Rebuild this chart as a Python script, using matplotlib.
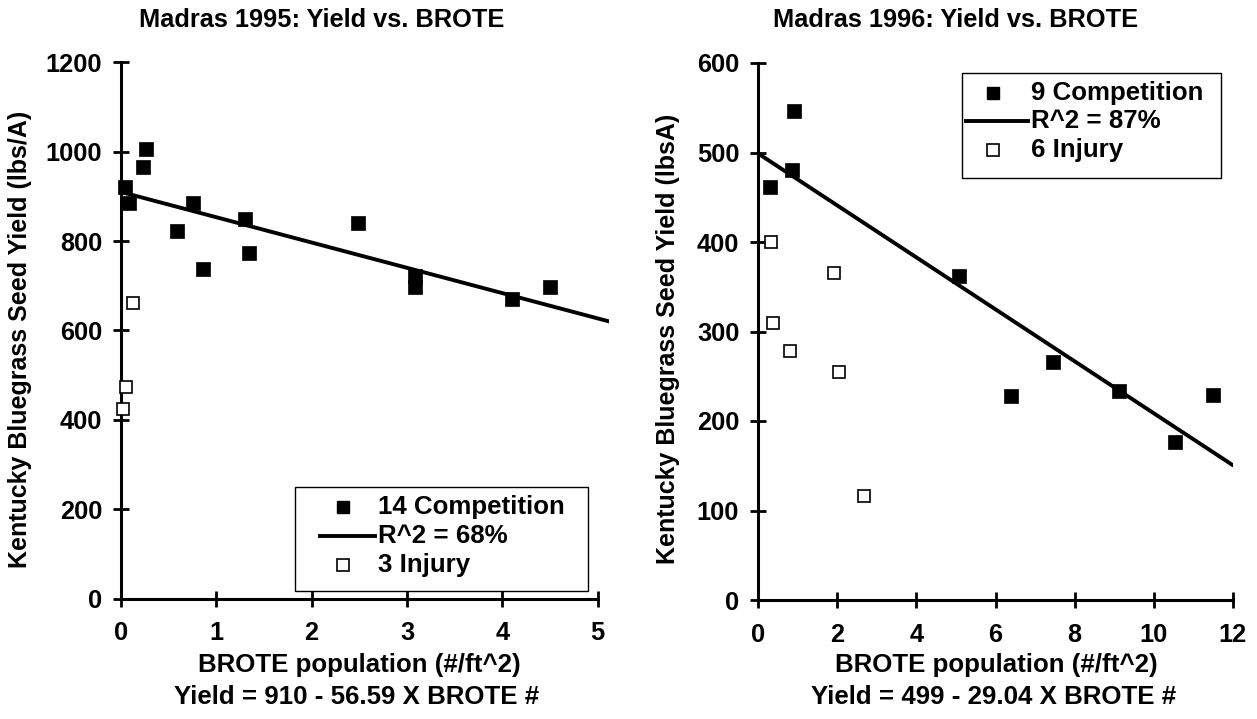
import matplotlib.pyplot as plt
from matplotlib.lines import Line2D
from matplotlib.patches import Rectangle

plt.rcParams['font.family'] = ['Liberation Sans', 'DejaVu Sans']
plt.rcParams['font.weight'] = 'bold'

# Madras 1995 - competition (filled) and injury (open) plots
x95_comp = [0.04, 0.08, 0.23, 0.26, 0.59, 0.76, 0.86, 1.30, 1.34, 2.49, 3.08, 3.08, 4.10, 4.50]
y95_comp = [921, 885, 966, 1006, 823, 885, 738, 850, 773, 841, 721, 698, 670, 697]
x95_inj = [0.13, 0.05, 0.02]
y95_inj = [661, 473, 424]
fit95 = (910, -56.59)
fit95_x = [0, 5.12]
labels95 = ['14 Competition', 'R^2 = 68%', '3 Injury']

# Madras 1996
x96_comp = [0.30, 0.86, 0.91, 5.07, 6.39, 7.45, 9.12, 10.53, 11.49]
y96_comp = [461, 480, 546, 362, 228, 266, 233, 176, 229]
x96_inj = [0.33, 0.38, 0.80, 1.93, 2.05, 2.67]
y96_inj = [400, 309, 278, 365, 255, 116]
fit96 = (499, -29.04)
fit96_x = [0, 12]
labels96 = ['9 Competition', 'R^2 = 87%', '6 Injury']

W, H = 1257, 719
fig = plt.figure(figsize=(W / 100, H / 100), dpi=100)


def fx(px):
    return px / W


def fy(py):
    return 1 - py / H


def style_axis(ax, xticks, yticks, xlim, ylim, xmax_axis):
    ax.set_xlim(*xlim)
    ax.set_ylim(*ylim)
    ax.set_xticks(xticks)
    ax.set_yticks(yticks)
    for s in ['top', 'right']:
        ax.spines[s].set_visible(False)
    for s in ['left', 'bottom']:
        ax.spines[s].set_linewidth(2.2)
    ax.spines['bottom'].set_bounds(0, xmax_axis)
    ax.tick_params(direction='inout', length=11, width=2.0, labelsize=18.3)
    ax.tick_params(axis='x', pad=11)
    ax.tick_params(axis='y', pad=8)
    for lab in ax.get_xticklabels() + ax.get_yticklabels():
        lab.set_fontweight('bold')
    ax.patch.set_alpha(0)


def draw(ax, xc, yc, xi, yi, fit, fitx):
    ax.plot(fitx, [fit[0] + fit[1] * v for v in fitx], color='black', lw=2.8,
            solid_capstyle='round', zorder=2)
    ax.plot(xc, yc, ls='none', marker='s', ms=9.5, mfc='black', mec='black', mew=0.5,
            zorder=3, clip_on=False)
    ax.plot(xi, yi, ls='none', marker='s', ms=8, mfc='white', mec='black', mew=1.2,
            zorder=3, clip_on=False)


def legend(labels, box, rows, mark_x, line_x, text_x):
    # box = (left, top, right, bottom) in pixels
    l, t, r, b = box
    fig.add_artist(Rectangle((fx(l), fy(b)), fx(r) - fx(l), fy(t) - fy(b),
                             transform=fig.transFigure, facecolor='white',
                             edgecolor='black', lw=1.0, zorder=5))
    fig.add_artist(Line2D([fx(mark_x)], [fy(rows[0])], ls='none', marker='s', ms=9,
                          mfc='black', mec='black', transform=fig.transFigure, zorder=6))
    fig.add_artist(Line2D([fx(line_x[0]), fx(line_x[1])], [fy(rows[1])] * 2, color='black',
                          lw=2.8, transform=fig.transFigure, zorder=6))
    fig.add_artist(Line2D([fx(mark_x)], [fy(rows[2])], ls='none', marker='s', ms=8,
                          mfc='white', mec='black', mew=1.2, transform=fig.transFigure,
                          zorder=6))
    for lab, ry in zip(labels, rows):
        fig.text(fx(text_x), fy(ry), lab, fontsize=18.6, fontweight='bold',
                 ha='left', va='center', zorder=7)


# left chart: x 0 at px 121, 5.12 at px 609; y 0 at 598.5, 1200 at 62.4
ax1 = fig.add_axes([fx(121), fy(598.5), fx(609) - fx(121), fy(62.4) - fy(598.5)])
draw(ax1, x95_comp, y95_comp, x95_inj, y95_inj, fit95, fit95_x)
style_axis(ax1, range(0, 6), range(0, 1201, 200), (0, 5.12), (0, 1200), 5)
legend(labels95, (295, 487, 588, 591), (507, 536, 565), 343, (320, 375), 378)

# right chart: x 0 at px 758, 12 at px 1233; y 0 at 600, 600 at 63
ax2 = fig.add_axes([fx(758), fy(600), fx(1233) - fx(758), fy(63) - fy(600)])
draw(ax2, x96_comp, y96_comp, x96_inj, y96_inj, fit96, fit96_x)
style_axis(ax2, range(0, 13, 2), range(0, 601, 100), (0, 12), (0, 600), 12)
legend(labels96, (962, 73, 1221, 178), (93, 121, 150), 993, (966, 1028), 1031)

txt = dict(fontweight='bold', ha='center', va='center')
fig.text(fx(322), fy(20), 'Madras 1995: Yield vs. BROTE', fontsize=18.3, **txt)
fig.text(fx(956), fy(20), 'Madras 1996: Yield vs. BROTE', fontsize=18.3, **txt)
fig.text(fx(359), fy(665), 'BROTE population (#/ft^2)', fontsize=18.6, **txt)
fig.text(fx(357), fy(697), 'Yield = 910 - 56.59 X BROTE #', fontsize=18.6, **txt)
fig.text(fx(996), fy(665), 'BROTE population (#/ft^2)', fontsize=18.6, **txt)
fig.text(fx(994), fy(697), 'Yield = 499 - 29.04 X BROTE #', fontsize=18.6, **txt)
fig.text(fx(20), fy(339), 'Kentucky Bluegrass Seed Yield (lbs/A)', rotation=90, fontsize=18, **txt)
fig.text(fx(668), fy(339), 'Kentucky Bluegrass Seed Yield (lbsA)', rotation=90, fontsize=18, **txt)

fig.savefig('out.png', dpi=100)
